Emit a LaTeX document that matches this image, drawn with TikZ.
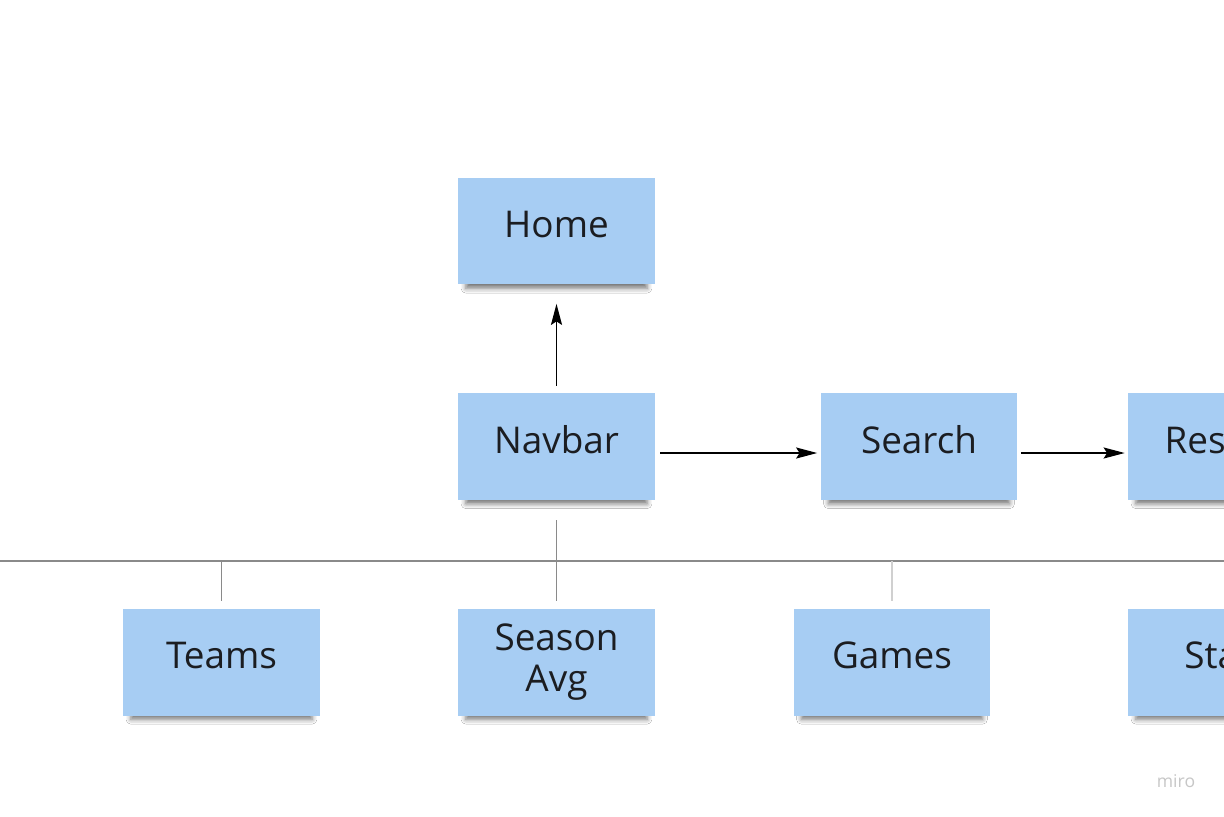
\documentclass[tikz,border=0pt]{standalone}
\usepackage{fontspec}
\setmainfont{Open Sans}
\usetikzlibrary{arrows.meta,shadows.blur}

\definecolor{noteblue}{HTML}{A7CDF3}
\definecolor{notetext}{HTML}{1B1D21}
\definecolor{busgray}{HTML}{8A8A8A}
\definecolor{stubgray}{HTML}{D0D0D0}

\begin{document}
\begin{tikzpicture}[x=0.02cm, y=-0.02cm,
  note/.style={fill=noteblue, draw=none, minimum width=3.94cm, minimum height=2.14cm,
    text=notetext, align=center, font=\fontsize{21}{23.5}\selectfont,
    text height=0.84em, text depth=0.05em,
    blur shadow={shadow xshift=0pt, shadow yshift=-5pt, shadow blur radius=3pt,
      shadow scale=0.92, shadow opacity=55}},
  flow/.style={-{Stealth[length=12pt, width=6.3pt, inset=2pt]}, line width=0.8pt, black},
  bus/.style={line width=0.8pt, busgray}]

\clip (0,0) rectangle (1224,816);
\fill[white] (0,0) rectangle (1224,816);

% top row
\node[note] (home) at (556.5,231) {Home};

% middle row
\node[note] (navbar) at (556.5,446.5) {Navbar};
\node[note] (search) at (919,446.5) {Search};
\node[note] (results) at (1226.5,446.5) {Results};

% bottom row
\node[note] (teams) at (221.5,662) {Teams};
\node[note, text height=, text depth=] (season) at (556.5,662) {Season\\Avg};
\node[note] (games) at (892,662) {Games};
\node[note] (stats) at (1226.5,662) {Stats};

% arrows
\draw[flow, shorten <=0.14cm, shorten >=0.38cm] (navbar.north) -- (home.south);
\draw[flow, shorten <=0.1cm, shorten >=0.06cm] ([yshift=-0.13cm]navbar.east) -- ([yshift=-0.13cm]search.west);
\draw[flow, shorten <=0.06cm, shorten >=0.06cm] ([yshift=-0.13cm]search.east) -- ([yshift=-0.13cm]results.west);

% bus line
\coordinate (busL) at (0,561);
\coordinate (busR) at (1224,561);
\draw[bus] (busL) -- (busR);
\draw[bus, shorten <=0.4cm, shorten >=0.14cm] (navbar.south) -- (season.north);
\draw[bus, shorten >=0.14cm] (teams.north |- busL) -- (teams.north);
\draw[bus, stubgray, shorten >=0.14cm] (games.north |- busL) -- (games.north);

\node[text=black!22, font=\fontsize{10}{12}\selectfont] (miro) at (1176,781) {miro};
\end{tikzpicture}
\end{document}
